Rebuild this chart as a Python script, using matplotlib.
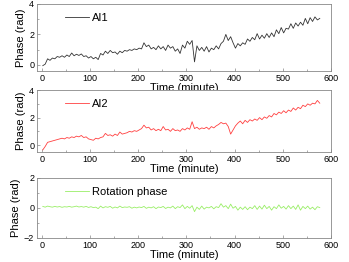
import numpy as np
import matplotlib
matplotlib.use("Agg")
import matplotlib.pyplot as plt
from matplotlib.ticker import MultipleLocator

plt.rcParams['font.family'] = ['Liberation Sans', 'DejaVu Sans']

# phase readings every 5 minutes starting at t = 2
ai1 = [-0.05, 0.05, 0.40, 0.30, 0.45, 0.40, 0.55, 0.50, 0.60, 0.50,
       0.65, 0.55, 0.78, 0.60, 0.70, 0.62, 0.72, 0.55, 0.60, 0.45,
       0.55, 0.40, 0.50, 0.35, 0.75, 0.65, 0.90, 0.75, 0.95, 0.80,
       0.85, 0.70, 0.90, 0.80, 0.95, 0.90, 1.00, 0.95, 1.05, 1.00,
       1.10, 1.05, 1.45, 1.20, 1.30, 1.05, 1.15, 1.00, 1.25, 1.05,
       1.20, 0.95, 1.30, 1.10, 1.20, 0.90, 1.05, 0.75, 1.30, 1.10,
       1.55, 1.35, 1.60, 0.20, 1.25, 0.95, 1.15, 0.90, 1.20, 0.85,
       1.10, 1.00, 1.25, 1.05, 1.40, 1.55, 2.00, 1.60, 1.85, 1.45,
       1.10, 1.40, 1.25, 1.45, 1.35, 1.70, 1.55, 1.80, 1.65, 2.05,
       1.70, 1.95, 1.75, 2.05, 1.80, 2.10, 1.85, 2.30, 2.05, 2.45,
       2.10, 2.40, 2.35, 2.70, 2.40, 2.75, 2.55, 2.80, 2.60, 3.05,
       2.70, 3.10, 2.85, 3.15, 2.95, 3.05]

ai2 = [-0.35, -0.10, 0.20, 0.25, 0.30, 0.35, 0.40, 0.45, 0.50, 0.45,
       0.55, 0.50, 0.60, 0.55, 0.65, 0.60, 0.70, 0.55, 0.60, 0.45,
       0.40, 0.35, 0.50, 0.45, 0.55, 0.60, 0.85, 0.70, 0.75, 0.65,
       0.80, 0.70, 0.95, 0.80, 0.85, 0.90, 1.00, 0.95, 1.05, 1.00,
       1.10, 1.20, 1.45, 1.25, 1.30, 1.10, 1.20, 1.05, 1.15, 1.05,
       1.35, 1.10, 1.15, 1.00, 1.20, 1.05, 1.10, 1.00, 1.20, 1.10,
       1.25, 1.15, 1.70, 1.20, 1.30, 1.15, 1.25, 1.20, 1.30, 1.15,
       1.35, 1.25, 1.40, 1.50, 1.65, 1.55, 1.60, 1.35, 0.80, 1.10,
       1.40, 1.60, 1.75, 1.55, 1.80, 1.65, 1.85, 1.75, 1.90, 1.80,
       2.00, 1.85, 2.05, 1.95, 2.15, 2.05, 2.30, 2.20, 2.40, 2.30,
       2.50, 2.35, 2.55, 2.45, 2.70, 2.55, 2.75, 2.65, 2.90, 2.80,
       3.00, 2.90, 3.05, 3.00, 3.25, 3.05]

rot = [0.10, 0.05, 0.12, 0.08, 0.05, 0.10, 0.06, 0.09, 0.04, 0.08,
       0.06, 0.10, 0.05, 0.08, 0.12, 0.06, 0.09, 0.05, 0.10, 0.03,
       0.08, 0.02, 0.05, -0.05, 0.12, 0.00, 0.08, 0.04, 0.10, -0.02,
       0.06, 0.00, 0.12, 0.02, 0.06, 0.04, 0.08, -0.02, 0.05, 0.00,
       0.06, 0.02, 0.10, -0.03, 0.05, 0.00, 0.08, -0.05, 0.06, 0.02,
       0.10, -0.04, 0.05, 0.00, 0.12, -0.05, 0.08, 0.02, 0.20, -0.05,
       0.10, -0.02, 0.15, -0.25, 0.05, -0.10, 0.12, -0.08, 0.05, 0.00,
       0.10, -0.06, 0.08, 0.02, 0.28, 0.05, 0.15, -0.05, 0.25, -0.02,
       0.10, -0.15, 0.05, -0.10, 0.08, -0.12, 0.05, -0.05, 0.15, -0.10,
       0.12, -0.08, 0.18, -0.05, 0.10, -0.15, 0.08, -0.05, 0.20, -0.02,
       0.10, -0.08, 0.15, -0.05, 0.12, -0.10, 0.20, -0.15, 0.10, -0.05,
       0.12, -0.08, 0.05, -0.12, 0.08, 0.02]

series = [
    (ai1, "AI1", "#333333", (-0.4, 4), 2),
    (ai2, "AI2", "#ff4040", (-0.5, 4), 2),
    (rot, "Rotation phase", "#99ee66", (-2, 2), 2),
]

# axes boxes in figure fractions: left, bottom, width, height
boxes = [
    [0.106, 0.729, 0.842, 0.256],
    [0.106, 0.420, 0.842, 0.236],
    [0.106, 0.092, 0.842, 0.229],
]

fig = plt.figure(figsize=(3.49, 2.62), dpi=100)

for (vals, name, col, ylim, ystep), box in zip(series, boxes):
    ax = fig.add_axes(box)
    t = np.arange(len(vals)) * 5 + 2
    ax.plot(t, vals, color=col, lw=0.6, label=name)
    ax.set_xlim(-10, 600)
    ax.set_ylim(*ylim)
    ax.xaxis.set_major_locator(MultipleLocator(100))
    ax.xaxis.set_minor_locator(MultipleLocator(50))
    ax.yaxis.set_major_locator(MultipleLocator(ystep))
    ax.yaxis.set_minor_locator(MultipleLocator(ystep / 2))
    ax.tick_params(which='both', direction='in', color='#888888',
                   labelsize=6.5, pad=2)
    ax.tick_params(which='major', length=2.5, width=0.5)
    ax.tick_params(which='minor', length=1.5, width=0.5)
    for s in ax.spines.values():
        s.set_color('#888888')
        s.set_linewidth(0.6)
    ax.set_xlabel("Time (minute)", fontsize=8, labelpad=0)
    ax.set_ylabel("Phase (rad)", fontsize=8, labelpad=2)
    ax.legend(loc='upper left', bbox_to_anchor=(0.06, 1.02), frameon=False,
              fontsize=8, handlelength=2.2, handletextpad=0.3)

fig.savefig("out.png", dpi=100)
